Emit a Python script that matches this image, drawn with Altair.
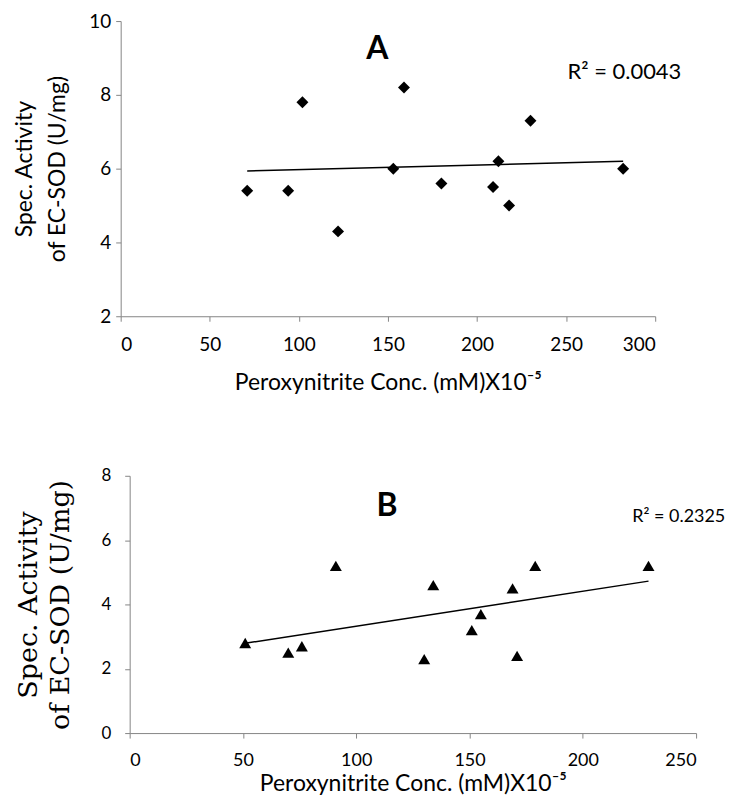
import altair as alt
import pandas as pd

# ---- Panel A data (diamonds) ----
a_x = [71, 94, 102, 122, 153, 159, 180, 209, 212, 218, 230, 282]
a_y = [5.4, 5.4, 7.8, 4.3, 6.0, 8.2, 5.6, 5.5, 6.2, 5.0, 7.3, 6.0]
a_x_ticks = [0, 50, 100, 150, 200, 250, 300]
a_y_ticks = [2, 4, 6, 8, 10]
a_label = "A"
a_r2 = "R² = 0.0043"

# ---- Panel B data (triangles) ----
b_x = [51, 70, 76, 91, 130, 134, 151, 155, 169, 171, 179, 229]
b_y = [2.8, 2.5, 2.7, 5.2, 2.3, 4.6, 3.2, 3.7, 4.5, 2.4, 5.2, 5.2]
b_x_ticks = [0, 50, 100, 150, 200, 250]
b_y_ticks = [0, 2, 4, 6, 8]
b_label = "B"
b_r2 = "R² = 0.2325"

x_title = "Peroxynitrite Conc. (mM)X10⁻⁵"
y_title = ["Spec. Activity", "of EC-SOD (U/mg)"]

AXIS_GRAY = "#868686"
A_SHIFT = 9  # panel A sits 9px further left than panel B

# ---------------- Panel A ----------------
dfA = pd.DataFrame({"x": a_x, "y": a_y})
xA = alt.X("x:Q", scale=alt.Scale(domain=[0, 300], nice=False, zero=False,
                                  range=[-A_SHIFT, 527]),
           axis=alt.Axis(values=a_x_ticks, title=x_title, labelFont="Lato", labelFontSize=19,
                         titleFont="Lato", titleFontSize=23, labelPadding=14, titlePadding=17,
                         tickSize=5, titleX=259))
yA = alt.Y("y:Q", scale=alt.Scale(domain=[2, 10], nice=False, zero=False),
           axis=alt.Axis(values=a_y_ticks, title=y_title, labelFont="Lato", labelFontSize=19,
                         titleFont="Lato", titleFontSize=23, titleLineHeight=33,
                         labelPadding=5, titlePadding=19, tickSize=5, offset=A_SHIFT))

ptsA = alt.Chart(dfA).mark_point(shape="diamond", filled=True, size=144, color="black",
                                 opacity=1).encode(x=xA, y=yA)
lineA = alt.Chart(dfA).transform_regression("x", "y").mark_line(
    color="black", strokeWidth=1.5).encode(x=xA, y=yA)
labA = alt.Chart(pd.DataFrame({"x": [144], "y": [8.97], "t": [a_label]})).mark_text(
    font="Lato", fontWeight="bold", fontSize=32, baseline="alphabetic", align="center",
    color="black").encode(x=xA, y=yA, text="t:N")
r2A = alt.Chart(pd.DataFrame({"x": [250.8], "y": [8.42], "t": [a_r2]})).mark_text(
    font="Lato", fontSize=22, baseline="alphabetic", align="left",
    color="black").encode(x=xA, y=yA, text="t:N")

chartA = alt.layer(lineA, ptsA, labA, r2A).properties(width=527, height=296)

# ---------------- Panel B ----------------
dfB = pd.DataFrame({"x": b_x, "y": b_y})
xB = alt.X("x:Q", scale=alt.Scale(domain=[0, 250], nice=False, zero=False),
           axis=alt.Axis(values=b_x_ticks, title=x_title, labelFont="Lato", labelFontSize=18,
                         titleFont="Lato", titleFontSize=23, labelPadding=14, titlePadding=3,
                         tickSize=5))
yB = alt.Y("y:Q", scale=alt.Scale(domain=[0, 8], nice=False, zero=False),
           axis=alt.Axis(values=b_y_ticks, title=y_title, labelFont="Lato", labelFontSize=17,
                         titleFont="DejaVu Serif", titleFontSize=27, titleLineHeight=33,
                         labelPadding=14, titlePadding=26, tickSize=5))

ptsB = alt.Chart(dfB).mark_point(shape="triangle-up", filled=True, size=144, color="black",
                                 opacity=1).encode(x=xB, y=yB)
lineB = alt.Chart(dfB).transform_regression("x", "y").mark_line(
    color="black", strokeWidth=1.5).encode(x=xB, y=yB)
labB = alt.Chart(pd.DataFrame({"x": [113.6], "y": [6.74], "t": [b_label]})).mark_text(
    font="Lato", fontWeight="bold", fontSize=32, baseline="alphabetic", align="center",
    color="black").encode(x=xB, y=yB, text="t:N")
r2B = alt.Chart(pd.DataFrame({"x": [221.8], "y": [6.56], "t": [b_r2]})).mark_text(
    font="Lato", fontSize=18, baseline="alphabetic", align="left",
    color="black").encode(x=xB, y=yB, text="t:N")

chartB = alt.layer(lineB, ptsB, labB, r2B).properties(width=568, height=258)

chart = alt.concat(chartA, chartB, columns=1, align="none", spacing=73).properties(
    padding={"left": 5, "top": 3, "right": 0, "bottom": 0}
).configure_view(stroke=None).configure_axis(
    grid=False, domainColor=AXIS_GRAY, tickColor=AXIS_GRAY, labelColor="black",
    titleColor="black", titleFontWeight="normal", domainWidth=1, tickWidth=1
)

chart.save("out.html", embed_options={"renderer": "svg", "actions": False})
